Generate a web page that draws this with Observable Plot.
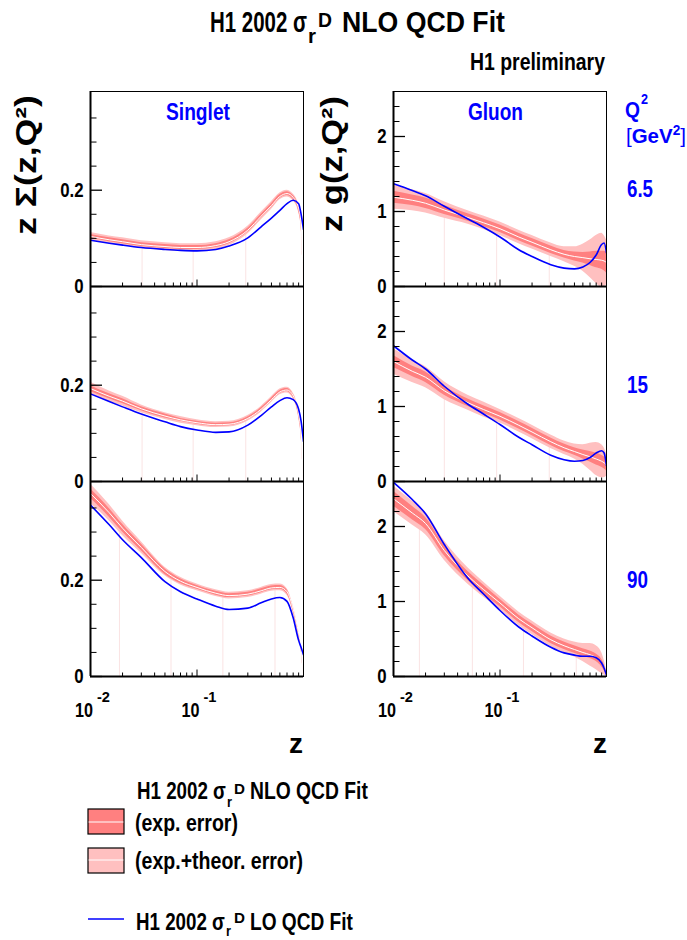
<!DOCTYPE html>
<html>
<head>
<meta charset="utf-8">
<script src="https://cdn.jsdelivr.net/npm/d3@7"></script>
<script src="https://cdn.jsdelivr.net/npm/@observablehq/plot@0.6"></script>
<style>
  html, body { margin: 0; padding: 0; background: #fff; }
  #root { position: relative; width: 687px; height: 940px; overflow: hidden; background: #fff; }
  #root svg { position: absolute; }
</style>
</head>
<body>
<div id="root"></div>
<script>
// ---------------- data ----------------
const z = [0.01, 0.015, 0.02, 0.03, 0.05, 0.07, 0.1, 0.15, 0.2, 0.3, 0.4, 0.5, 0.6, 0.7, 0.8, 0.9, 0.95, 1.0];
const zMajor = [0.01, 0.1, 1];
const zMinor = [0.02, 0.03, 0.04, 0.05, 0.06, 0.07, 0.08, 0.09, 0.2, 0.3, 0.4, 0.5, 0.6, 0.7, 0.8, 0.9];
const q2Labels = ["6.5", "15", "90"];

const singletDomain = [0, 0.405];
const singletMajor = [0, 0.2];
const singletMinor = [0.05, 0.1, 0.15, 0.25, 0.3, 0.35];
const gluonDomain = [0, 2.6];
const gluonMajor = [0, 1, 2];
const gluonMinor = [0.2, 0.4, 0.6, 0.8, 1.2, 1.4, 1.6, 1.8, 2.2, 2.4];

// Singlet, Q2 = 6.5
const singletNLO_6 = [0.104, 0.097, 0.093, 0.087, 0.083, 0.081, 0.081, 0.085, 0.093, 0.117, 0.146, 0.168, 0.187, 0.193, 0.185, 0.162, 0.13, 0];
const singletExp_6 = [0.004, 0.004, 0.004, 0.004, 0.004, 0.004, 0.004, 0.004, 0.004, 0.004, 0.004, 0.004, 0.004, 0.004, 0.004, 0.005, 0.005, 0];
const singletTot_6 = [0.008, 0.008, 0.008, 0.008, 0.008, 0.008, 0.008, 0.008, 0.008, 0.008, 0.008, 0.008, 0.007, 0.007, 0.007, 0.008, 0.008, 0];
const singletLO_6  = [0.096, 0.090, 0.086, 0.081, 0.077, 0.075, 0.074, 0.077, 0.084, 0.101, 0.124, 0.142, 0.158, 0.172, 0.179, 0.172, 0.15, 0.118];
// Singlet, Q2 = 15
const singletNLO_15 = [0.193, 0.177, 0.167, 0.151, 0.136, 0.128, 0.122, 0.118, 0.119, 0.131, 0.150, 0.170, 0.186, 0.190, 0.178, 0.14, 0.10, 0];
const singletExp_15 = [0.006, 0.005, 0.005, 0.004, 0.004, 0.003, 0.003, 0.003, 0.003, 0.003, 0.003, 0.003, 0.003, 0.003, 0.003, 0.004, 0.004, 0];
const singletTot_15 = [0.013, 0.011, 0.010, 0.008, 0.007, 0.007, 0.006, 0.006, 0.006, 0.006, 0.006, 0.006, 0.006, 0.006, 0.006, 0.007, 0.007, 0];
const singletLO_15  = [0.182, 0.166, 0.155, 0.140, 0.124, 0.114, 0.107, 0.102, 0.103, 0.117, 0.137, 0.155, 0.168, 0.174, 0.170, 0.150, 0.125, 0.083];
// Singlet, Q2 = 90
const singletNLO_90 = [0.380, 0.340, 0.308, 0.268, 0.218, 0.198, 0.185, 0.173, 0.168, 0.171, 0.178, 0.184, 0.185, 0.176, 0.140, 0.090, 0.06, 0];
const singletExp_90 = [0.010, 0.009, 0.008, 0.007, 0.006, 0.005, 0.004, 0.004, 0.004, 0.004, 0.004, 0.004, 0.004, 0.004, 0.004, 0.004, 0.004, 0];
const singletTot_90 = [0.020, 0.017, 0.015, 0.012, 0.009, 0.008, 0.007, 0.007, 0.007, 0.007, 0.007, 0.007, 0.007, 0.007, 0.007, 0.006, 0.005, 0];
const singletLO_90  = [0.356, 0.315, 0.284, 0.247, 0.197, 0.176, 0.161, 0.146, 0.139, 0.142, 0.153, 0.161, 0.164, 0.156, 0.122, 0.075, 0.06, 0.045];

// Gluon, Q2 = 6.5
const gluonNLO_6 = [1.19, 1.15, 1.11, 1.02, 0.92, 0.85, 0.77, 0.66, 0.59, 0.49, 0.43, 0.40, 0.385, 0.37, 0.36, 0.35, 0.34, 0.32];
const gluonExp_6 = [0.08, 0.07, 0.07, 0.06, 0.05, 0.05, 0.05, 0.05, 0.05, 0.05, 0.05, 0.06, 0.07, 0.09, 0.11, 0.12, 0.13, 0.14];
const gluonTot_6 = [0.16, 0.14, 0.13, 0.11, 0.09, 0.09, 0.09, 0.09, 0.09, 0.09, 0.10, 0.13, 0.18, 0.25, 0.32, 0.36, 0.34, 0.30];
const gluonLO_6  = [1.37, 1.28, 1.21, 1.07, 0.90, 0.79, 0.66, 0.49, 0.40, 0.29, 0.245, 0.235, 0.26, 0.32, 0.42, 0.56, 0.58, 0.45];
// Gluon, Q2 = 15
const gluonNLO_15 = [1.60, 1.47, 1.39, 1.21, 1.05, 0.96, 0.87, 0.75, 0.66, 0.53, 0.45, 0.40, 0.36, 0.33, 0.30, 0.27, 0.25, 0.22];
const gluonExp_15 = [0.08, 0.07, 0.07, 0.06, 0.05, 0.05, 0.05, 0.05, 0.05, 0.05, 0.05, 0.05, 0.06, 0.07, 0.08, 0.08, 0.08, 0.08];
const gluonTot_15 = [0.17, 0.15, 0.14, 0.12, 0.10, 0.10, 0.09, 0.09, 0.09, 0.09, 0.09, 0.10, 0.13, 0.18, 0.22, 0.22, 0.20, 0.15];
const gluonLO_15  = [1.81, 1.62, 1.50, 1.27, 1.03, 0.90, 0.76, 0.59, 0.49, 0.35, 0.29, 0.27, 0.28, 0.32, 0.38, 0.41, 0.38, 0.21];
// Gluon, Q2 = 90
const gluonNLO_90 = [2.37, 2.18, 2.04, 1.68, 1.34, 1.16, 0.98, 0.77, 0.65, 0.49, 0.41, 0.36, 0.32, 0.29, 0.25, 0.18, 0.12, 0.04];
const gluonExp_90 = [0.10, 0.09, 0.08, 0.07, 0.06, 0.06, 0.05, 0.05, 0.05, 0.05, 0.05, 0.05, 0.05, 0.05, 0.05, 0.05, 0.04, 0.02];
const gluonTot_90 = [0.17, 0.16, 0.15, 0.13, 0.11, 0.10, 0.09, 0.09, 0.09, 0.09, 0.09, 0.10, 0.12, 0.15, 0.16, 0.14, 0.10, 0.04];
const gluonLO_90  = [2.59, 2.36, 2.17, 1.76, 1.31, 1.10, 0.88, 0.66, 0.54, 0.39, 0.315, 0.285, 0.27, 0.27, 0.25, 0.18, 0.11, 0.02];

// faint vertical drop lines (z positions) per row
const dropsSinglet = [[0.0305, 0.092, 0.287], [0.0305, 0.092, 0.287], [0.0187, 0.057, 0.175, 0.54]];
const dropsGluon   = [[0.030, 0.093, 0.29], [0.030, 0.093, 0.29], [0.0175, 0.055, 0.166, 0.52]];

// ---------------- style ----------------
const FONT = "'Liberation Sans', Arial, Helvetica, sans-serif";
const EXP_COLOR = "#ff8080";
const TOT_COLOR = "#ffc0c0";
const BLUE = "#0000ff";
const CONDENSE = 0.8;

const W = 213, H = 195, ML = 50, MR = 4, MT = 4, MB = 4;
const colLeft = [90, 393];
const rowTop = [91, 286, 481];

const root = document.getElementById("root");

function interp(zz, arr) {
  const lz = Math.log10(zz);
  for (let i = 0; i < z.length - 1; i++) {
    const a = Math.log10(z[i]), b = Math.log10(z[i + 1]);
    if (lz >= a && lz <= b) { const t = (lz - a) / (b - a); return arr[i] + (arr[i + 1] - arr[i]) * t; }
  }
  return arr[arr.length - 1];
}

function condense(svg) {
  svg.querySelectorAll("text").forEach(t => {
    const w = t.getComputedTextLength();
    if (w > 0) { t.setAttribute("textLength", w * CONDENSE); t.setAttribute("lengthAdjust", "spacingAndGlyphs"); }
  });
}

function makePanel(o) {
  const rows = z.map((zz, i) => ({z: zz, c: o.nlo[i], e: o.exp[i], t: o.tot[i], lo: o.lo[i]}));
  const drops = o.drops.map(zz => ({z: zz, y: interp(zz, o.nlo)}));
  const plot = Plot.plot({
    width: ML + W + MR, height: MT + H + MB,
    marginLeft: ML, marginRight: MR, marginTop: MT, marginBottom: MB,
    style: {background: "transparent", overflow: "visible", fontFamily: FONT},
    x: {type: "log", domain: [0.01, 1], axis: null},
    y: {domain: o.domain},
    marks: [
      Plot.ruleX(drops, {x: "z", y1: 0, y2: "y", stroke: "#fae3e3", strokeWidth: 1}),
      Plot.areaY(rows, {x: "z", y1: d => d.c - d.t, y2: d => d.c + d.t, fill: TOT_COLOR, curve: "monotone-x", clip: true}),
      Plot.areaY(rows, {x: "z", y1: d => d.c - d.e, y2: d => d.c + d.e, fill: EXP_COLOR, curve: "monotone-x", clip: true}),
      Plot.line(rows, {x: "z", y: "c", stroke: "white", strokeWidth: 1, curve: "monotone-x", clip: true}),
      Plot.line(rows, {x: "z", y: "lo", stroke: BLUE, strokeWidth: 1.6, curve: "monotone-x", clip: true}),
      Plot.frame({stroke: "black", strokeWidth: 1}),
      Plot.ruleX([0.01], {stroke: "black", strokeWidth: 2}),
      Plot.ruleY([o.domain[0]], {stroke: "black", strokeWidth: 2}),
      Plot.tickX(zMinor, {x: d => d, insetTop: H - 3.5, stroke: "black"}),
      Plot.tickX(zMajor, {x: d => d, insetTop: H - 6.5, stroke: "black"}),
      Plot.tickY(o.minor, {y: d => d, insetRight: W - 6.5, stroke: "black"}),
      Plot.tickY(o.major, {y: d => d, insetRight: W - 12, stroke: "black", strokeWidth: 1.3}),
      Plot.axisY(o.major, {anchor: "left", tickSize: 0, tickPadding: 7, fontSize: 21, fontWeight: "bold", fill: "black", tickFormat: d => String(d)})
    ]
  });
  plot.style.left = (o.left - ML) + "px";
  plot.style.top = (o.top - MT) + "px";
  root.appendChild(plot);
  condense(plot);
  return plot;
}

const singlet = [
  {nlo: singletNLO_6, exp: singletExp_6, tot: singletTot_6, lo: singletLO_6},
  {nlo: singletNLO_15, exp: singletExp_15, tot: singletTot_15, lo: singletLO_15},
  {nlo: singletNLO_90, exp: singletExp_90, tot: singletTot_90, lo: singletLO_90}
];
const gluon = [
  {nlo: gluonNLO_6, exp: gluonExp_6, tot: gluonTot_6, lo: gluonLO_6},
  {nlo: gluonNLO_15, exp: gluonExp_15, tot: gluonTot_15, lo: gluonLO_15},
  {nlo: gluonNLO_90, exp: gluonExp_90, tot: gluonTot_90, lo: gluonLO_90}
];

const bottomPlots = [];
for (let r = 0; r < 3; r++) {
  const p1 = makePanel({...singlet[r], domain: singletDomain, major: singletMajor, minor: singletMinor,
    drops: dropsSinglet[r], left: colLeft[0], top: rowTop[r]});
  const p2 = makePanel({...gluon[r], domain: gluonDomain, major: gluonMajor, minor: gluonMinor,
    drops: dropsGluon[r], left: colLeft[1], top: rowTop[r]});
  if (r === 2) bottomPlots.push(p1, p2);
}

// ---------------- overlay text / legend ----------------
const ov = d3.select(root).append("svg")
  .attr("width", 687).attr("height", 940)
  .style("left", "0px").style("top", "0px").style("pointer-events", "none")
  .attr("font-family", FONT);

// text condensed to a given width with a horizontal scale transform
function txt(s, x, y, o = {}) {
  const g = ov.append("g");
  const t = g.append("text").attr("x", 0).attr("y", 0)
    .attr("font-size", o.size || 23).attr("font-weight", o.weight || "bold")
    .attr("fill", o.fill || "black").attr("text-anchor", o.anchor || "start");
  if (o.build) o.build(t); else t.text(s);
  let sx = 1;
  if (o.len) { const w = t.node().getComputedTextLength(); if (w > 0) sx = o.len / w; }
  g.attr("transform", `translate(${x},${y})` + (o.rotate ? ` rotate(${o.rotate})` : "") + ` scale(${sx},1)`);
  return t;
}

// title
txt("H1 2002 σ", 210, 32, {size: 30, len: 97});
txt("r", 308, 43, {size: 20, len: 8});
txt("D", 318, 27, {size: 20, len: 14});
txt("NLO QCD Fit", 342, 32, {size: 30, len: 163});
txt("H1 preliminary", 470, 70, {size: 23, len: 135});

// panel headers
txt("Singlet", 166, 120, {size: 23, fill: BLUE, len: 64});
txt("Gluon", 468, 120, {size: 23, fill: BLUE, len: 55});

// Q2 labels
txt("Q", 625, 117, {size: 22, fill: BLUE, len: 15});
txt("2", 641, 104, {size: 15, fill: BLUE, len: 7});
txt("", 626, 143, {size: 21, fill: BLUE, len: 60, build: t => {
  t.append("tspan").attr("font-weight", "normal").text("[");
  t.append("tspan").text("GeV");
  t.append("tspan").attr("font-size", 14).attr("dy", -8).text("2");
  t.append("tspan").attr("font-weight", "normal").attr("dy", 8).text("]");
}});
const q2Base = [197, 393, 588];
const q2Len = [26, 21, 21];
q2Labels.forEach((s, i) => txt(s, 627, q2Base[i], {size: 24, fill: BLUE, len: q2Len[i]}));

// y axis titles (rotated)
txt("z Σ(z,Q²)", 36, 165, {size: 29, anchor: "middle", rotate: -90, len: 140});
txt("z g(z,Q²)", 342, 164, {size: 29, anchor: "middle", rotate: -90, len: 136});

// x tick labels through the bottom panels' x scales
const xExp = ["-2", "-1"];
bottomPlots.forEach((p, ci) => {
  const xs = p.scale("x");
  [0.01, 0.1].forEach((v, k) => {
    const px = colLeft[ci] - ML + xs.apply(v);
    txt("10", px + 3, 717, {size: 21, anchor: "end", len: 18});
    txt(xExp[k], px + 7, 702, {size: 15, len: 13});
  });
  txt("z", colLeft[ci] + W + (ci ? 1 : 0), 753, {size: 28, anchor: "end", len: 14});
});

// legend
txt("H1 2002 σ", 137, 799, {size: 23, len: 89});
txt("r", 227, 807, {size: 15, len: 5});
txt("D", 234, 794, {size: 15, len: 11});
txt("NLO QCD Fit", 250, 799, {size: 23, len: 118});

ov.append("rect").attr("x", 88).attr("y", 809).attr("width", 36).attr("height", 25)
  .attr("fill", EXP_COLOR).attr("stroke", "black").attr("stroke-width", 1.2);
ov.append("line").attr("x1", 88.6).attr("x2", 123.4).attr("y1", 822).attr("y2", 822).attr("stroke", "white").attr("stroke-width", 1);
txt("(exp. error)", 135, 831, {size: 23, len: 103});

ov.append("rect").attr("x", 88).attr("y", 848).attr("width", 36).attr("height", 25)
  .attr("fill", TOT_COLOR).attr("stroke", "black").attr("stroke-width", 1.2);
ov.append("line").attr("x1", 88.6).attr("x2", 123.4).attr("y1", 860).attr("y2", 860).attr("stroke", "white").attr("stroke-width", 1);
txt("(exp.+theor. error)", 135, 869, {size: 23, len: 168});

ov.append("line").attr("x1", 88).attr("x2", 124).attr("y1", 919).attr("y2", 919).attr("stroke", BLUE).attr("stroke-width", 1.5);
txt("H1 2002 σ", 136, 930, {size: 23, len: 89});
txt("r", 226, 936, {size: 14, len: 5});
txt("D", 234, 923, {size: 15, len: 11});
txt("LO QCD Fit", 250, 930, {size: 23, len: 103});
</script>
</body>
</html>
